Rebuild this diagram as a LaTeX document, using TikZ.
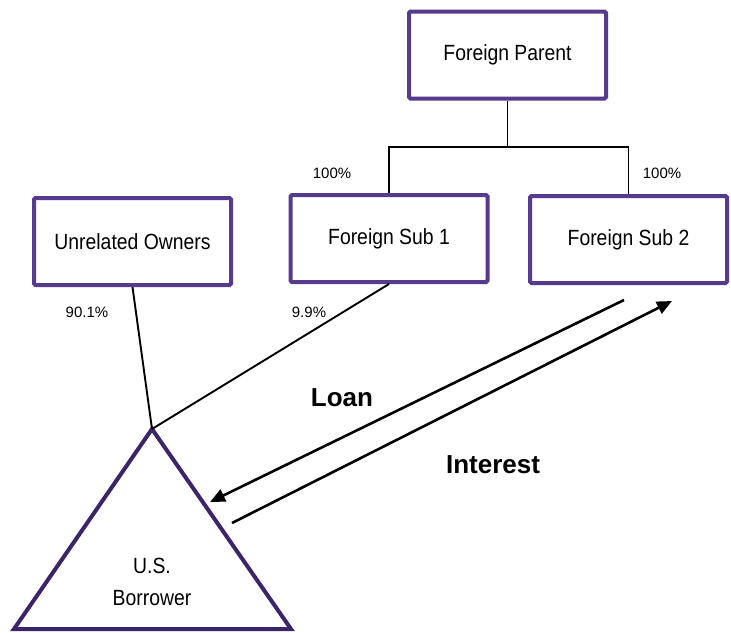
\documentclass[tikz,border=0pt]{standalone}
\usepackage{fontspec}
\setmainfont{Liberation Sans}
\newfontfamily\boxfont{Liberation Sans}[FakeStretch=0.88]
\usetikzlibrary{arrows.meta}

\definecolor{boxpurple}{HTML}{563A8C}
\definecolor{tripurple}{HTML}{3B2468}

\begin{document}
\begin{tikzpicture}
  [x=1pt, y=-1pt,
   entity/.style={rectangle, draw=boxpurple, line width=4pt, rounded corners=1.5pt,
     minimum width=197pt, minimum height=87pt, inner sep=0pt,
     font=\boxfont\fontsize{22}{26}\selectfont},
   share/.style={font=\fontsize{15}{18}\selectfont},
   flow/.style={font=\bfseries\fontsize{26}{30}\selectfont},
   link/.style={line width=1.9pt},
   money/.style={-{Triangle[length=15pt,width=13pt]}, line width=2.6pt}]
  \useasboundingbox (0,0) rectangle (731,632);

  \node[entity] (parent) at (507.5,55) {Foreign Parent};
  \node[entity] (owners) at (132.5,241.5) {Unrelated Owners};
  \node[entity] (sub1) at (389,238.5) {Foreign Sub 1};
  \node[entity] (sub2) at (628.5,239.5) {Foreign Sub 2};

  % borrower triangle
  \coordinate (apex) at (152,429);
  \coordinate (left) at (14,629);
  \coordinate (right) at (291,629);
  \draw[draw=tripurple, line width=4pt, line join=miter] (apex) -- (right) -- (left) -- cycle;
  \node[font=\boxfont\fontsize{22}{32}\selectfont, align=center] (borrower) at (152,582)
    {U.S.\\Borrower};

  \node[share] (p1) at (332,173) {100\%};
  \node[share] (p2) at (662,173) {100\%};
  \node[share] (p3) at (87,312) {90.1\%};
  \node[share] (p4) at (309,312) {9.9\%};

  \coordinate (bus) at (507.5,147);
  \draw[link] (parent) -- (bus);
  \draw[link] (sub1.north) |- (bus) -| (sub2.north);
  \draw[link] (owners.south) -- (apex);
  \draw[link] (sub1.south) -- (apex);

  \coordinate (loanfrom) at (624,300);
  \coordinate (loanto) at (210,502);
  \coordinate (intfrom) at (232,523);
  \coordinate (intto) at (672,301);
  \draw[money] (loanfrom) -- (loanto);
  \draw[money] (intfrom) -- (intto);

  \node[flow] (loan) at (342,398) {Loan};
  \node[flow] (interest) at (493,465) {Interest};
\end{tikzpicture}
\end{document}
